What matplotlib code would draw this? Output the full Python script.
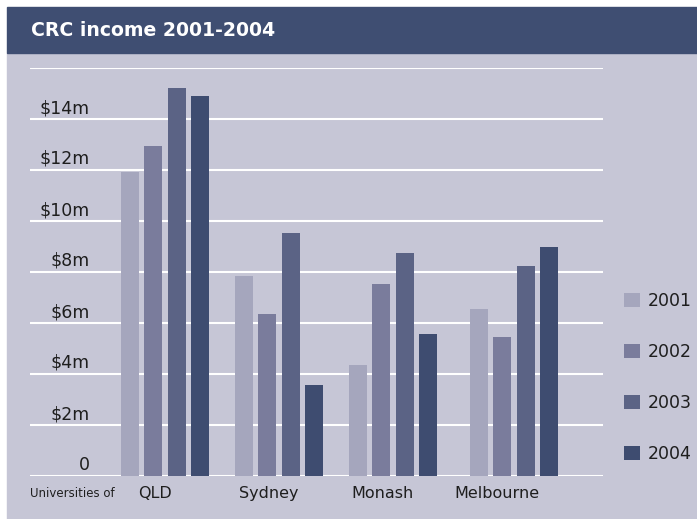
import numpy as np
import matplotlib.pyplot as plt
from matplotlib.patches import Rectangle
from matplotlib.transforms import ScaledTranslation

universities = ["QLD", "Sydney", "Monash", "Melbourne"]
years = ["2001", "2002", "2003", "2004"]
income_2001 = [11.93, 7.85, 4.36, 6.55]
income_2002 = [12.95, 6.36, 7.54, 5.46]
income_2003 = [15.23, 9.54, 8.75, 8.24]
income_2004 = [14.91, 3.57, 5.57, 8.99]
ytick_values = [0, 2, 4, 6, 8, 10, 12, 14, 16]
ytick_labels = ["0", "$2m", "$4m", "$6m", "$8m", "$10m", "$12m", "$14m", ""]

bar_colors = ["#a5a6bd", "#7a7c9c", "#5b6385", "#3e4c70"]
panel_color = "#c6c6d6"
header_color = "#3f4e72"
text_color = "#1e1e1e"

W, H = 697, 519
fig = plt.figure(figsize=(W / 100, H / 100), dpi=100, facecolor="white")

# background panel and header strip
fig.add_artist(Rectangle((7 / W, -0.01), 1.02 - 7 / W, (H - 53) / H + 0.01,
                         transform=fig.transFigure, color=panel_color, zorder=-2))
fig.add_artist(Rectangle((7 / W, (H - 53) / H), 1.02 - 7 / W, 46 / H,
                         transform=fig.transFigure, color=header_color, zorder=-2))
fig.text(31 / W, (H - 31) / H, "CRC income 2001-2004", color="white",
         fontsize=13.6, fontweight="bold", family="DejaVu Sans", va="center", ha="left")

ax = fig.add_axes([30 / W, (H - 476) / H, 573 / W, 408 / H])
ax.set_facecolor("none")

group_x = np.array([0, 1, 2, 3.06])
label_x = np.arange(len(universities)) - 0.09
width = 0.158
step = 0.2047

series = [income_2001, income_2002, income_2003, income_2004]
handles = []
for j, vals in enumerate(series):
    b = ax.bar(group_x + (j - 1.5) * step, vals, width, color=bar_colors[j],
               label=years[j], zorder=3)
    handles.append(b)

ax.set_xlim(-1.184, 3.842)
ax.set_ylim(0, 16)
ax.set_yticks(ytick_values, ytick_labels)
ax.yaxis.grid(True, color="white", linewidth=1.5)
ax.set_axisbelow(True)
for s in ax.spines.values():
    s.set_visible(False)
ax.tick_params(axis="both", length=0)
ax.tick_params(axis="y", pad=0, labelsize=12.5, labelcolor=text_color)
offset = ScaledTranslation(0.60, 0.13, fig.dpi_scale_trans)
for lab in ax.get_yticklabels():
    lab.set_transform(lab.get_transform() + offset)

ax.set_xticks(label_x, universities)
ax.tick_params(axis="x", pad=7, labelsize=11.5, labelcolor=text_color)

ax.text(0, -0.0417, "Universities of", transform=ax.transAxes, fontsize=8.5,
        color=text_color, ha="left", va="center")

fig.legend(handles=handles, loc="upper left", bbox_to_anchor=(624 / W, (H - 292) / H),
           frameon=False, fontsize=12.5, handlelength=0.92, handleheight=0.92,
           handletextpad=0.46, labelspacing=1.9, borderpad=0, borderaxespad=0,
           labelcolor=text_color)

fig.savefig("out.png", dpi=100, facecolor="white")
